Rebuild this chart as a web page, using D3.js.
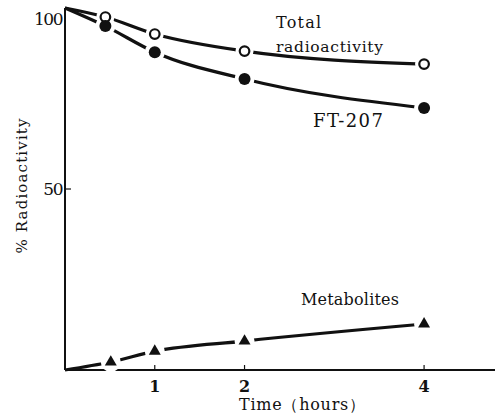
<!DOCTYPE html>
<html><head><meta charset="utf-8">
<script src="https://cdn.jsdelivr.net/npm/d3@7"></script>
<style>body{margin:0;background:#fff}svg{display:block}text{font-family:"DejaVu Serif",serif;fill:#111}</style>
</head><body><svg id="c" width="496" height="419"></svg>
<script>
const timeTotal = [0, 0.45, 1, 2, 4];
const totalValues = [100, 97.5, 92.8, 88.1, 84.5];
const timeFT = [0, 0.45, 1, 2, 4];
const ftValues = [100, 95.0, 87.8, 80.4, 72.4];
const timeMet = [0, 0.51, 1, 2, 4];
const metValues = [0, 2.2, 5.2, 8.0, 12.7];
const xTicks = [1, 2, 4];
const yTicks = [50, 100];

const svg = d3.select("#c");
const x = d3.scaleLinear().domain([0, 4.79]).range([65, 495]);
const y = d3.scaleLinear().domain([0, 100]).range([370, 8]);

// axes
const g = svg.append("g");
g.append("line").attr("x1", x(0)).attr("x2", 495).attr("y1", y(0)).attr("y2", y(0)).attr("stroke", "#111").attr("stroke-width", 2);
g.append("line").attr("x1", x(0)).attr("x2", x(0)).attr("y1", y(0)).attr("y2", y(100)).attr("stroke", "#111").attr("stroke-width", 2);
xTicks.forEach(t => {
  g.append("line").attr("x1", x(t)).attr("x2", x(t)).attr("y1", y(0) - 5).attr("y2", y(0)).attr("stroke", "#111").attr("stroke-width", 1.2);
  g.append("text").attr("x", x(t)).attr("y", y(0) + 22).attr("text-anchor", "middle").attr("font-size", 16).attr("font-weight", "bold").text(t);
});
yTicks.forEach(t => {
  if (t !== 100) g.append("line").attr("x1", x(0)).attr("x2", x(0) + 6).attr("y1", y(t)).attr("y2", y(t)).attr("stroke", "#111").attr("stroke-width", 1.2);
  g.append("text").attr("x", x(0) - 3).attr("y", y(t) + (t === 100 ? 11 : 0)).attr("dy", "0.35em").attr("text-anchor", "end").attr("font-size", 17).attr("letter-spacing", -1.5).text(t);
});
svg.append("text").attr("x", 239).attr("y", 410).attr("font-size", 16).attr("textLength", 126).attr("lengthAdjust", "spacing").text("Time（hours）");
svg.append("text").attr("transform", "translate(27,186) rotate(-90)").attr("text-anchor", "middle").attr("font-size", 15).attr("textLength", 135).attr("lengthAdjust", "spacing").text("%  Radioactivity");

const line = d3.line().x(d => x(d[0])).y(d => y(d[1])).curve(d3.curveMonotoneX);
function series(ts, vs) { return ts.map((t, i) => [t, vs[i]]); }
const tot = series(timeTotal, totalValues), ft = series(timeFT, ftValues), met = series(timeMet, metValues);
[tot, ft, met].forEach(s => svg.append("path").attr("d", line(s)).attr("fill", "none").attr("stroke", "#111").attr("stroke-width", 3.2));

// gaps around markers
function gap(s, r) { s.slice(1).forEach(d => svg.append("circle").attr("cx", x(d[0])).attr("cy", y(d[1])).attr("r", r).attr("fill", "#fff")); }
gap(tot, 9); gap(ft, 10); gap(met, 10);

tot.slice(1).forEach(d => svg.append("circle").attr("cx", x(d[0])).attr("cy", y(d[1])).attr("r", 4.8).attr("fill", "#fff").attr("stroke", "#111").attr("stroke-width", 2.2));
ft.slice(1).forEach(d => svg.append("circle").attr("cx", x(d[0])).attr("cy", y(d[1])).attr("r", 6).attr("fill", "#111"));
const tri = d3.symbol().type(d3.symbolTriangle).size(62);
met.slice(1).forEach(d => svg.append("path").attr("d", tri()).attr("transform", `translate(${x(d[0])},${y(d[1])})`).attr("fill", "#111"));

// annotations
function label(txt, x0, yb, w, fs) {
  svg.append("text").attr("x", x0).attr("y", yb).attr("font-size", fs).attr("textLength", w).attr("lengthAdjust", "spacing").text(txt);
}
label("Total", 276, 28, 45, 16);
label("radioactivity", 276, 52, 107, 15.5);
label("FT-207", 313, 127, 70, 18);
label("Metabolites", 301, 305, 98, 16);
</script></body></html>
